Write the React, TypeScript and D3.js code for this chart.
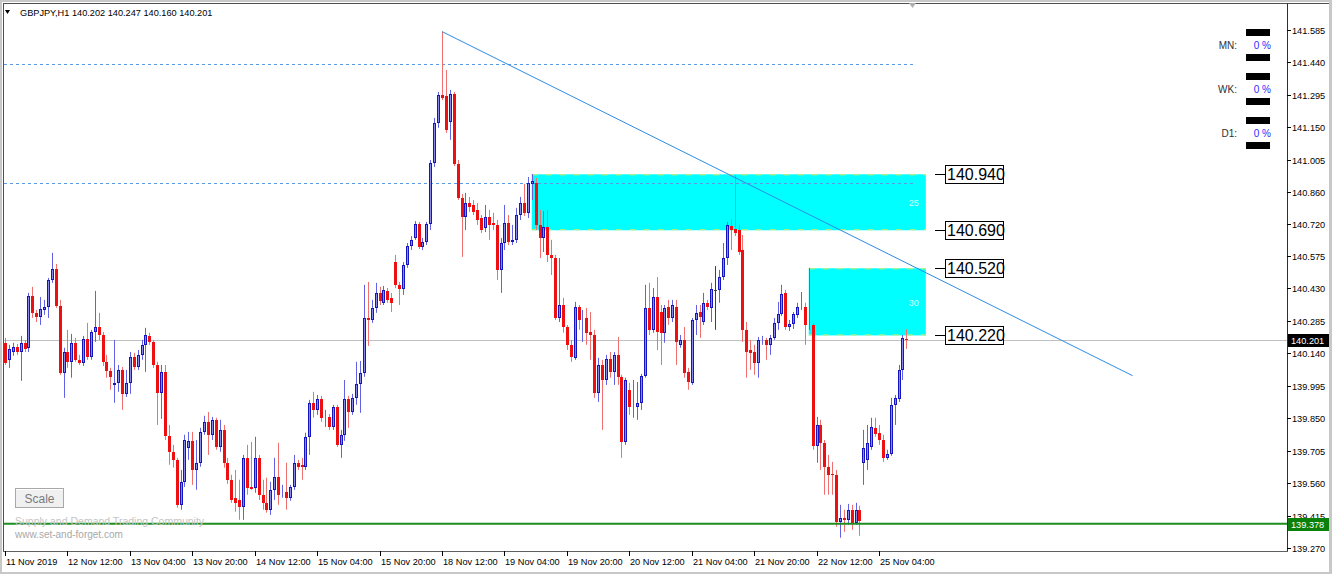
import * as d3 from "d3";

// GBPJPY H1 candles, [open, high, low, close], first bar = 11 Nov 2019 20:00
const ohlc: [number, number, number, number][] = [
  [140.187, 140.209, 140.088, 140.098], [140.111, 140.178, 140.075, 140.16], [140.146, 140.187, 140.129, 140.169], [140.169, 140.182, 140.133, 140.146],
  [140.146, 140.218, 140.017, 140.187], [140.187, 140.2, 140.146, 140.16], [140.165, 140.41, 140.146, 140.397], [140.397, 140.437, 140.298, 140.321],
  [140.321, 140.334, 140.28, 140.303], [140.303, 140.392, 140.267, 140.338], [140.334, 140.379, 140.312, 140.347], [140.347, 140.477, 140.298, 140.468],
  [140.468, 140.589, 140.455, 140.517], [140.517, 140.539, 140.343, 140.352], [140.352, 140.379, 140.044, 140.053], [140.053, 140.165, 139.941, 140.146],
  [140.146, 140.245, 140.075, 140.102], [140.102, 140.227, 140.031, 140.187], [140.187, 140.209, 140.102, 140.111], [140.111, 140.133, 140.088, 140.098],
  [140.098, 140.218, 140.084, 140.204], [140.204, 140.276, 140.111, 140.124], [140.124, 140.245, 140.111, 140.236], [140.236, 140.419, 140.191, 140.258],
  [140.258, 140.321, 140.2, 140.222], [140.222, 140.236, 140.084, 140.102], [140.102, 140.133, 140.031, 140.062], [140.062, 140.075, 139.977, 140.035],
  [139.999, 140.2, 139.919, 140.008], [140.008, 140.088, 139.968, 140.066], [140.066, 140.079, 139.887, 139.959], [139.959, 140.066, 139.945, 140.008],
  [140.008, 140.146, 139.959, 140.124], [140.124, 140.142, 140.066, 140.079], [140.079, 140.155, 140.066, 140.133], [140.133, 140.2, 140.111, 140.178],
  [140.178, 140.254, 140.057, 140.222], [140.218, 140.232, 140.178, 140.191], [140.191, 140.2, 140.075, 140.088], [140.088, 140.102, 139.82, 139.964],
  [139.964, 140.088, 139.847, 140.057], [140.057, 140.088, 139.753, 139.771], [139.771, 139.82, 139.642, 139.7], [139.7, 139.731, 139.629, 139.664],
  [139.664, 139.673, 139.45, 139.463], [139.463, 139.619, 139.441, 139.566], [139.566, 139.776, 139.543, 139.753], [139.718, 139.789, 139.664, 139.749],
  [139.749, 139.789, 139.552, 139.619], [139.619, 139.753, 139.53, 139.651], [139.651, 139.807, 139.633, 139.789], [139.789, 139.861, 139.776, 139.834],
  [139.834, 139.878, 139.686, 139.776], [139.776, 139.856, 139.753, 139.843], [139.843, 139.852, 139.709, 139.722], [139.722, 139.843, 139.7, 139.798],
  [139.798, 139.82, 139.629, 139.651], [139.651, 139.673, 139.557, 139.575], [139.575, 139.597, 139.472, 139.485], [139.495, 139.619, 139.432, 139.472],
  [139.485, 139.575, 139.396, 139.454], [139.454, 139.686, 139.396, 139.673], [139.673, 139.731, 139.508, 139.539], [139.543, 139.744, 139.53, 139.534],
  [139.539, 139.767, 139.517, 139.673], [139.673, 139.686, 139.485, 139.508], [139.508, 139.575, 139.441, 139.472], [139.472, 139.584, 139.428, 139.441],
  [139.441, 139.566, 139.418, 139.53], [139.53, 139.673, 139.485, 139.588], [139.588, 139.74, 139.463, 139.508], [139.517, 139.552, 139.495, 139.521],
  [139.521, 139.651, 139.441, 139.495], [139.495, 139.552, 139.481, 139.543], [139.543, 139.686, 139.53, 139.651], [139.651, 139.664, 139.619, 139.633],
  [139.642, 139.673, 139.575, 139.633], [139.633, 139.785, 139.619, 139.767], [139.767, 139.932, 139.686, 139.919], [139.919, 139.968, 139.852, 139.887],
  [139.887, 139.954, 139.865, 139.936], [139.936, 139.95, 139.834, 139.852], [139.852, 139.887, 139.811, 139.856], [139.856, 139.869, 139.798, 139.811],
  [139.811, 139.91, 139.798, 139.901], [139.901, 139.91, 139.722, 139.731], [139.731, 139.798, 139.673, 139.776], [139.776, 140.021, 139.749, 139.936],
  [139.936, 139.95, 139.807, 139.878], [139.878, 139.959, 139.865, 139.941], [139.941, 140.102, 139.91, 140.003], [140.003, 140.106, 139.874, 140.053],
  [140.053, 140.446, 140.035, 140.298], [140.298, 140.459, 140.173, 140.289], [140.289, 140.379, 140.276, 140.343], [140.343, 140.455, 140.321, 140.41],
  [140.41, 140.437, 140.356, 140.374], [140.366, 140.441, 140.356, 140.423], [140.419, 140.432, 140.366, 140.379], [140.388, 140.41, 140.325, 140.366],
  [140.548, 140.58, 140.432, 140.446], [140.446, 140.459, 140.356, 140.428], [140.428, 140.548, 140.401, 140.535], [140.535, 140.633, 140.522, 140.62],
  [140.62, 140.664, 140.602, 140.647], [140.656, 140.731, 140.647, 140.718], [140.718, 140.727, 140.606, 140.615], [140.615, 140.656, 140.602, 140.638],
  [140.638, 140.727, 140.624, 140.718], [140.718, 141.004, 140.691, 140.991], [140.991, 141.192, 140.973, 141.17], [141.17, 141.308, 141.148, 141.295],
  [141.295, 141.578, 141.272, 141.282], [141.29, 141.406, 141.125, 141.138], [141.174, 141.317, 141.094, 141.299], [141.299, 141.308, 140.977, 140.986],
  [140.986, 141.004, 140.825, 140.834], [140.834, 140.852, 140.571, 140.749], [140.749, 140.857, 140.691, 140.812], [140.812, 140.839, 140.772, 140.794],
  [140.803, 140.825, 140.758, 140.772], [140.781, 140.812, 140.714, 140.736], [140.745, 140.758, 140.678, 140.691], [140.7, 140.803, 140.682, 140.749],
  [140.749, 140.781, 140.647, 140.714], [140.723, 140.768, 140.691, 140.714], [140.714, 140.736, 140.468, 140.513], [140.513, 140.656, 140.41, 140.633],
  [140.633, 140.803, 140.602, 140.723], [140.723, 140.758, 140.624, 140.638], [140.638, 140.714, 140.624, 140.647], [140.647, 140.79, 140.633, 140.758],
  [140.758, 140.839, 140.736, 140.812], [140.812, 140.897, 140.754, 140.768], [140.768, 140.928, 140.745, 140.902], [140.897, 140.941, 140.825, 140.91],
  [140.902, 140.924, 140.691, 140.714], [140.714, 140.781, 140.566, 140.656], [140.656, 140.776, 140.593, 140.705], [140.705, 140.781, 140.548, 140.58],
  [140.58, 140.647, 140.49, 140.566], [140.566, 140.58, 140.289, 140.298], [140.298, 140.566, 140.28, 140.356], [140.356, 140.388, 140.232, 140.258],
  [140.258, 140.267, 140.155, 140.178], [140.178, 140.2, 140.102, 140.124], [140.12, 140.37, 140.111, 140.347], [140.347, 140.356, 140.245, 140.289],
  [140.294, 140.334, 140.191, 140.298], [140.298, 140.343, 140.178, 140.232], [140.236, 140.325, 140.111, 140.222], [140.222, 140.245, 139.941, 139.964],
  [139.964, 140.12, 139.923, 140.088], [140.088, 140.111, 139.798, 140.021], [140.021, 140.133, 139.999, 140.115], [140.115, 140.146, 140.031, 140.057],
  [140.057, 140.146, 139.999, 140.133], [140.133, 140.213, 139.999, 140.035], [140.035, 140.044, 139.673, 139.744], [139.744, 140.031, 139.731, 140.021],
  [139.977, 140.008, 139.865, 139.901], [139.896, 140.021, 139.852, 139.901], [139.901, 140.012, 139.843, 139.919], [139.919, 140.048, 139.887, 140.04],
  [140.04, 140.446, 140.031, 140.343], [140.343, 140.455, 140.222, 140.245], [140.245, 140.432, 140.232, 140.392], [140.392, 140.481, 140.155, 140.236],
  [140.325, 140.356, 140.088, 140.232], [140.232, 140.356, 140.187, 140.343], [140.347, 140.379, 140.267, 140.298], [140.298, 140.379, 140.28, 140.356],
  [140.347, 140.379, 140.088, 140.191], [140.178, 140.222, 140.165, 140.2], [140.2, 140.258, 140.031, 140.053], [140.057, 140.075, 139.977, 140.012],
  [140.008, 140.298, 139.999, 140.289], [140.289, 140.356, 140.222, 140.321], [140.325, 140.356, 140.209, 140.303], [140.28, 140.41, 140.267, 140.366],
  [140.366, 140.379, 140.334, 140.347], [140.343, 140.455, 140.28, 140.428], [140.423, 140.53, 140.245, 140.423], [140.423, 140.513, 140.366, 140.481],
  [140.481, 140.633, 140.468, 140.566], [140.566, 140.727, 140.535, 140.714], [140.709, 140.74, 140.602, 140.691], [140.696, 140.937, 140.664, 140.678],
  [140.691, 140.714, 140.58, 140.593], [140.602, 140.669, 140.191, 140.245], [140.245, 140.28, 140.031, 140.146], [140.155, 140.2, 140.066, 140.142],
  [140.146, 140.178, 140.044, 140.098], [140.098, 140.213, 140.031, 140.2], [140.196, 140.218, 140.178, 140.2], [140.2, 140.209, 140.111, 140.178],
  [140.178, 140.222, 140.133, 140.209], [140.209, 140.298, 140.2, 140.276], [140.276, 140.37, 140.245, 140.316], [140.316, 140.446, 140.307, 140.405],
  [140.41, 140.423, 140.245, 140.258], [140.258, 140.289, 140.24, 140.271], [140.271, 140.325, 140.249, 140.316], [140.312, 140.366, 140.298, 140.347],
  [140.347, 140.414, 140.334, 140.352], [140.347, 140.366, 140.178, 140.267], [140.267, 140.522, 140.245, 140.271], [140.267, 140.276, 139.709, 139.727],
  [139.727, 139.856, 139.651, 139.82], [139.82, 139.843, 139.619, 139.74], [139.74, 139.753, 139.508, 139.633], [139.633, 139.686, 139.508, 139.597],
  [139.601, 139.655, 139.508, 139.597], [139.597, 139.619, 139.365, 139.387], [139.387, 139.463, 139.316, 139.405], [139.405, 139.441, 139.342, 139.396],
  [139.396, 139.467, 139.374, 139.441], [139.441, 139.463, 139.351, 139.383], [139.383, 139.472, 139.374, 139.441], [139.441, 139.459, 139.325, 139.392],
  [139.651, 139.798, 139.552, 139.718], [139.664, 139.82, 139.619, 139.74], [139.722, 139.852, 139.709, 139.811], [139.807, 139.852, 139.767, 139.78],
  [139.785, 139.82, 139.731, 139.753], [139.753, 139.776, 139.655, 139.673], [139.673, 139.709, 139.664, 139.691], [139.691, 139.941, 139.682, 139.91],
  [139.91, 139.954, 139.82, 139.941], [139.936, 140.088, 139.923, 140.066], [140.066, 140.222, 140.021, 140.209], [140.202, 140.247, 140.16, 140.201],
];

const priceTicks = [
  "141.585", "141.440", "141.295", "141.150", "141.005", "140.860", "140.720", "140.575", "140.430",
  "140.285", "140.140", "139.995", "139.850", "139.705", "139.560", "139.415", "139.270",
];
const timeTickBars = [0, 16, 32, 48, 64, 80, 96, 112, 128, 144, 160, 176, 192, 208, 224];
const timeTickLabels = [
  "11 Nov 2019", "12 Nov 12:00", "13 Nov 04:00", "13 Nov 20:00", "14 Nov 12:00", "15 Nov 04:00", "15 Nov 20:00",
  "18 Nov 12:00", "19 Nov 04:00", "19 Nov 20:00", "20 Nov 12:00", "21 Nov 04:00", "21 Nov 20:00", "22 Nov 12:00", "25 Nov 04:00",
];

const zones = [
  { from: 135, to: 236, top: 140.94, bottom: 140.69, tag: "25" },
  { from: 206, to: 236, top: 140.52, bottom: 140.22, tag: "30" },
];
const zoneLevels = ["140.940", "140.690", "140.520", "140.220"];
const dottedLevels = [141.433, 140.902];
const dottedEnd = 233.5;
const trendPoints = [
  { bar: 112, price: 141.578 },
  { bar: 289, price: 140.04 },
];
const bidPrice = 140.201;
const supportPrice = 139.378;
const headerText = "GBPJPY,H1  140.202 140.247 140.160 140.201";
const strengthRows = [
  { label: "MN:", value: "0 %" },
  { label: "WK:", value: "0 %" },
  { label: "D1:", value: "0 %" },
];

const W = 1332;
const H = 574;
const plot = { left: 4, right: 1287, top: 4, bottom: 551 };
const font = "'Liberation Sans', Arial, sans-serif";

export default function App() {
  const x = d3.scaleLinear().domain([0, 224]).range([5, 879]);
  const y = d3.scaleLinear().domain([139.27, 141.585]).range([548, 30]);
  const trend = d3
    .line<{ bar: number; price: number }>()
    .x((d) => x(d.bar))
    .y((d) => y(d.price));

  return (
    <svg
      width={W}
      height={H}
      style={{ position: "absolute", left: 0, top: 0, display: "block" }}
      fontFamily={font}
    >
      <defs>
        <clipPath id="plotClip">
          <rect x={plot.left} y={plot.top} width={plot.right - plot.left} height={plot.bottom - plot.top} />
        </clipPath>
      </defs>
      <rect width={W} height={H} fill="#c8c8c8" />
      <rect x={2} y={2} width={W - 5} height={H - 4} fill="#ffffff" />
      <line x1={3} x2={W - 3} y1={3.5} y2={3.5} stroke="#505050" />
      <line x1={3.5} x2={3.5} y1={3} y2={plot.bottom} stroke="#505050" />

      <g clipPath="url(#plotClip)">
        {/* zones */}
        {zones.map((z, i) => (
          <g key={i}>
            <rect x={x(z.from)} y={y(z.top)} width={x(z.to) - x(z.from)} height={y(z.bottom) - y(z.top)} fill="#00ffff" />
            <line x1={x(z.from)} x2={x(z.to)} y1={y(z.top) + 0.5} y2={y(z.top) + 0.5} stroke="#d8e860" strokeDasharray="6,8" />
            <line x1={x(z.from)} x2={x(z.to)} y1={y(z.bottom) - 0.5} y2={y(z.bottom) - 0.5} stroke="#d8e860" strokeDasharray="6,8" />
            <text x={x(z.to) - 17} y={(y(z.top) + y(z.bottom)) / 2 + 4} fontSize={9} fill="#d8ffff">
              {z.tag}
            </text>
          </g>
        ))}

        {dottedLevels.map((p, i) => (
          <line key={i} x1={plot.left} x2={x(dottedEnd)} y1={Math.round(y(p)) + 0.5} y2={Math.round(y(p)) + 0.5} stroke="#5a9ae2" strokeDasharray="3,3" />
        ))}

        <line x1={plot.left} x2={plot.right} y1={Math.round(y(bidPrice)) + 0.5} y2={Math.round(y(bidPrice)) + 0.5} stroke="#c0c0c0" />

        {/* candles */}
        {ohlc.map(([o, h, l, c], i) => {
          const cx = Math.round(x(i));
          const up = c > o;
          const flat = c === o;
          const yTop = Math.round(y(Math.max(o, c)));
          const yBot = Math.round(y(Math.min(o, c)));
          const wick = flat ? "#404040" : up ? "#6262e4" : "#f07070";
          return (
            <g key={i}>
              <line x1={cx + 0.5} x2={cx + 0.5} y1={y(h)} y2={y(l)} stroke={wick} />
              {flat ? (
                <line x1={cx - 1} x2={cx + 2} y1={yTop + 0.5} y2={yTop + 0.5} stroke="#404040" />
              ) : up ? (
                <rect x={cx - 0.5} y={yTop + 0.5} width={2} height={Math.max(yBot - yTop - 1, 0)} fill="#8a8aee" stroke="#1414c0" />
              ) : (
                <rect x={cx - 1} y={yTop} width={3} height={Math.max(yBot - yTop, 1)} fill="#ee1010" />
              )}
            </g>
          );
        })}

        <path d={trend(trendPoints) ?? ""} fill="none" stroke="#2d8ce6" strokeWidth={1} />

        <line x1={plot.left} x2={plot.right} y1={y(supportPrice)} y2={y(supportPrice)} stroke="#1e8c1e" strokeWidth={2} />

        <text x={15} y={525} fontSize={10.5} fill="#c4c4c4">Supply and Demand Trading Community</text>
        <text x={15} y={538} fontSize={10} fill="#a8a8a8">www.set-and-forget.com</text>
      </g>

      {/* zone price labels */}
      {zoneLevels.map((s) => {
        const cy = Math.round(y(parseFloat(s)));
        return (
          <g key={s}>
            <line x1={935} x2={946} y1={cy + 0.5} y2={cy + 0.5} stroke="#000" />
            <rect x={945.5} y={cy - 8.5} width={58} height={18} fill="#fff" stroke="#000" />
            <text x={947} y={cy + 6} fontSize={16} fill="#000">{s}</text>
          </g>
        );
      })}

      {/* header */}
      <polygon points="5,10 10,10 7.5,14" fill="#000" />
      <text x={20} y={16} fontSize={9.2} fill="#000">{headerText}</text>
      <polygon points="909,3 916,3 912.5,8" fill="#b0b0b0" />

      {/* strength widget */}
      {strengthRows.map((r, i) => (
        <g key={r.label}>
          <rect x={1246} y={29 + 44 * i} width={24} height={7} fill="#000" />
          <rect x={1246} y={54 + 44 * i} width={24} height={7} fill="#000" />
          <text x={1237} y={49 + 44 * i} fontSize={10} textAnchor="end" fill="#303030">{r.label}</text>
          <text x={1271} y={49 + 44 * i} fontSize={10} textAnchor="end" fill="#2a2aff">{r.value}</text>
        </g>
      ))}

      {/* scale button */}
      <rect x={15.5} y={488.5} width={48} height={19} fill="#f0f0f0" stroke="#a8a8a8" />
      <line x1={16} x2={63} y1={489.5} y2={489.5} stroke="#ffffff" />
      <text x={39.5} y={503} fontSize={12} textAnchor="middle" fill="#7a7a7a">Scale</text>

      {/* axes */}
      <line x1={plot.right + 0.5} x2={plot.right + 0.5} y1={3} y2={plot.bottom + 1} stroke="#303030" />
      <line x1={3} x2={plot.right + 1} y1={plot.bottom + 0.5} y2={plot.bottom + 0.5} stroke="#606060" />
      {priceTicks.map((s) => {
        const ty = Math.round(y(parseFloat(s)));
        return (
          <g key={s}>
            <line x1={plot.right} x2={plot.right + 4} y1={ty + 0.5} y2={ty + 0.5} stroke="#000" />
            <text x={1292} y={ty + 3.5} fontSize={9.2} fill="#000">{s}</text>
          </g>
        );
      })}
      {timeTickBars.map((b, i) => {
        const tx = Math.round(x(b));
        return (
          <g key={b}>
            <line x1={tx + 0.5} x2={tx + 0.5} y1={plot.bottom} y2={plot.bottom + 5} stroke="#000" />
            <text x={tx + 1} y={565} fontSize={9.2} fill="#000">{timeTickLabels[i]}</text>
          </g>
        );
      })}

      {/* current price boxes */}
      <rect x={1288} y={Math.round(y(bidPrice)) - 6} width={41} height={13} fill="#000" />
      <text x={1291} y={Math.round(y(bidPrice)) + 4} fontSize={9.2} fill="#fff">{bidPrice.toFixed(3)}</text>
      <rect x={1288} y={Math.round(y(supportPrice)) - 6} width={41} height={13} fill="#0a800a" />
      <text x={1291} y={Math.round(y(supportPrice)) + 4} fontSize={9.2} fill="#fff">{supportPrice.toFixed(3)}</text>
    </svg>
  );
}
